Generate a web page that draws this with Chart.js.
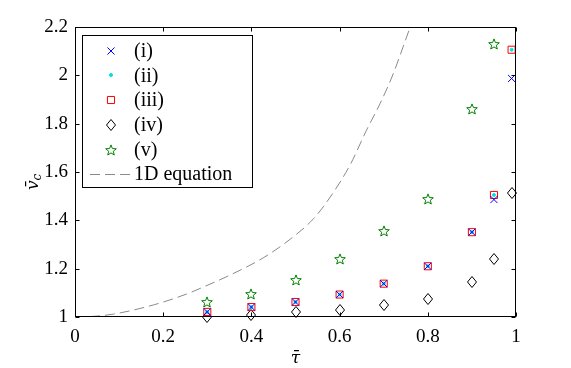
<!DOCTYPE html>
<html><head><meta charset="utf-8">
<script src="https://cdn.jsdelivr.net/npm/chart.js@4/dist/chart.umd.min.js"></script>
<style>html,body{margin:0;padding:0;background:#fff;}#wrap{width:571px;height:368px;}</style>
</head><body><div id="wrap"><canvas id="c" width="571" height="368"></canvas></div>
<script>
// ---- data ----
const tauValues = [0.3, 0.4, 0.5, 0.6, 0.7, 0.8, 0.9, 0.95, 0.99];
const seriesI   = [1.021, 1.041, 1.062, 1.093, 1.138, 1.210, 1.351, 1.486, 1.987];
const seriesII  = [1.021, 1.041, 1.062, 1.093, 1.138, 1.210, 1.351, 1.505, 2.106];
const seriesIII = [1.021, 1.041, 1.062, 1.093, 1.138, 1.210, 1.351, 1.505, 2.106];
const seriesIV  = [1.000, 1.007, 1.020, 1.031, 1.048, 1.076, 1.145, 1.239, 1.514];
const tauV      = [0.3, 0.4, 0.5, 0.6, 0.7, 0.8, 0.9, 0.95];
const seriesV   = [1.062, 1.097, 1.155, 1.240, 1.354, 1.489, 1.860, 2.128];
const curveTau  = [0, 0.03, 0.087, 0.178, 0.253, 0.291, 0.351, 0.427, 0.488, 0.541, 0.582, 0.624, 0.661, 0.692, 0.722, 0.744, 0.760, 0.775];
const curveV    = [1.0, 1.001, 1.012, 1.050, 1.095, 1.124, 1.173, 1.245, 1.322, 1.407, 1.505, 1.630, 1.773, 1.884, 2.008, 2.118, 2.200, 2.280];
const xTicks = [0, 0.2, 0.4, 0.6, 0.8, 1];
const yTicks = [1, 1.2, 1.4, 1.6, 1.8, 2, 2.2];
const seriesLabels = ['(i)', '(ii)', '(iii)', '(iv)', '(v)', '1D equation'];
const xTitle = 'τ\u0304';
const yTitleMain = 'v\u0304';
const yTitleSub = 'c';

const FONT = '"Liberation Serif", "Times New Roman", serif';

function marker(w, h, draw) {
  const c = document.createElement('canvas');
  c.width = w; c.height = h;
  const g = c.getContext('2d');
  draw(g, w, h);
  return c;
}
const mDiamond = marker(10, 12, g => {
  g.strokeStyle = '#000'; g.lineWidth = 1;
  g.beginPath(); g.moveTo(5, 0.5); g.lineTo(9.5, 6); g.lineTo(5, 11.5); g.lineTo(0.5, 6); g.closePath(); g.stroke();
});
const mStar = marker(12, 12, g => {
  g.strokeStyle = '#008000'; g.lineWidth = 1;
  g.beginPath();
  for (let i = 0; i < 10; i++) {
    const r = i % 2 === 0 ? 5.6 : 2.4;
    const a = -Math.PI / 2 + i * Math.PI / 5;
    const px = 6 + r * Math.cos(a), py = 6.5 + r * Math.sin(a);
    if (i === 0) g.moveTo(px, py); else g.lineTo(px, py);
  }
  g.closePath(); g.stroke();
});

function pts(xs, ys) { return xs.map((x, i) => ({ x: x, y: ys[i] })); }
function scatterSet(label, xs, ys, style, color, radius, fillCol) {
  return { type: 'scatter', label: label, data: pts(xs, ys), pointStyle: style, pointRadius: radius,
           borderColor: color, backgroundColor: fillCol || 'rgba(0,0,0,0)', pointBorderWidth: 1,
           showLine: false, clip: false };
}

const datasets = [
  scatterSet(seriesLabels[0], tauValues, seriesI, 'crossRot', '#0000ff', 5),
  scatterSet(seriesLabels[1], tauValues, seriesII, 'circle', '#00e0e0', 1.5, '#00e0e0'),
  scatterSet(seriesLabels[2], tauValues, seriesIII, 'rect', '#ff0000', 5),
  scatterSet(seriesLabels[3], tauValues, seriesIV, mDiamond, '#000000', 5),
  scatterSet(seriesLabels[4], tauV, seriesV, mStar, '#008000', 5),
  { type: 'line', label: seriesLabels[5], data: pts(curveTau, curveV), borderColor: '#8a8a8a',
    borderWidth: 1, borderDash: [10, 5], pointRadius: 0, fill: false, cubicInterpolationMode: 'monotone', clip: 0 }
];

const framePlugin = {
  id: 'frame',
  beforeDatasetsDraw(chart) { chart.ctx.imageSmoothingEnabled = false; },
  afterDatasetsDraw(chart) {
    const ctx = chart.ctx, a = chart.chartArea;
    ctx.imageSmoothingEnabled = true;
    const xs = chart.scales.x, ys = chart.scales.y;
    ctx.save();
    ctx.strokeStyle = '#000'; ctx.lineWidth = 1;
    const L = Math.round(a.left) + 0.5, R = Math.round(a.right) - 0.5;
    const T = Math.round(a.top) + 0.5, B = Math.round(a.bottom) - 0.5;
    ctx.strokeRect(L, T, R - L, B - T);
    ctx.beginPath();
    xTicks.forEach(v => {
      const p = Math.round(xs.getPixelForValue(v)) + 0.5;
      ctx.moveTo(p, B); ctx.lineTo(p, B - 4);
      ctx.moveTo(p, T); ctx.lineTo(p, T + 4);
    });
    yTicks.forEach(v => {
      const p = Math.round(ys.getPixelForValue(v)) + 0.5;
      ctx.moveTo(L, p); ctx.lineTo(L + 4, p);
      ctx.moveTo(R, p); ctx.lineTo(R - 4, p);
    });
    ctx.stroke();

    // legend (marker styles taken from the datasets' own point elements)
    const bx = 82.5, by = 35.5, bw = 170, bh = 152;
    ctx.fillStyle = '#fff'; ctx.fillRect(bx, by, bw, bh);
    ctx.strokeStyle = '#000';
    ctx.strokeRect(bx, by, bw, bh);
    ctx.textAlign = 'left'; ctx.textBaseline = 'middle';
    chart.data.datasets.forEach((ds, i) => {
      const y = 50.7 + i * 24.7;
      if (ds.type === 'scatter') {
        const el = chart.getDatasetMeta(i).data[0];
        const opts = el.options;
        ctx.save();
        ctx.strokeStyle = opts.borderColor;
        ctx.fillStyle = opts.backgroundColor;
        ctx.lineWidth = opts.borderWidth;
        Chart.helpers.drawPoint(ctx, opts, 111, Math.round(y));
        ctx.restore();
      } else {
        ctx.save(); ctx.strokeStyle = ds.borderColor; ctx.lineWidth = 1; ctx.setLineDash(ds.borderDash);
        ctx.beginPath(); ctx.moveTo(90, Math.round(y) + 0.5); ctx.lineTo(131, Math.round(y) + 0.5); ctx.stroke();
        ctx.restore();
      }
      ctx.font = '20px ' + FONT;
      ctx.fillStyle = '#000';
      ctx.fillText(ds.label, 134, y + 1);
    });

    // axis titles
    ctx.fillStyle = '#000';
    ctx.font = 'italic 17px "DejaVu Serif", serif';
    ctx.textAlign = 'center'; ctx.textBaseline = 'alphabetic';
    ctx.fillText(xTitle, (a.left + a.right) / 2, 363);
    ctx.save();
    ctx.translate(0, 190); ctx.rotate(-Math.PI / 2);
    ctx.textAlign = 'left';
    const w1 = ctx.measureText(yTitleMain).width;
    ctx.fillText(yTitleMain, 0, 38);
    ctx.font = 'italic 12px "DejaVu Serif", serif';
    ctx.fillText(yTitleSub, w1, 41);
    ctx.restore();
    ctx.restore();
  }
};

new Chart(document.getElementById('c'), {
  data: { datasets: datasets },
  options: {
    responsive: false, animation: false, devicePixelRatio: 1,
    events: [],
    layout: { padding: { left: 0, top: 27, right: 55, bottom: 0 } },
    plugins: { legend: { display: false }, tooltip: { enabled: false } },
    scales: {
      x: {
        type: 'linear', min: 0, max: 1,
        afterBuildTicks: s => { s.ticks = xTicks.map(v => ({ value: v })); },
        afterFit: s => { s.height = 51; },
        grid: { display: false, drawTicks: false }, border: { display: false },
        ticks: { color: '#000', font: { family: FONT, size: 19 }, padding: 9, maxRotation: 0,
                 callback: v => String(Math.round(v * 10) / 10) }
      },
      y: {
        type: 'linear', min: 1, max: 2.2,
        afterBuildTicks: s => { s.ticks = yTicks.map(v => ({ value: v })); },
        afterFit: s => { s.width = 75; },
        grid: { display: false, drawTicks: false }, border: { display: false },
        ticks: { color: '#000', font: { family: FONT, size: 19 }, padding: 7,
                 callback: v => String(Math.round(v * 10) / 10) }
      }
    }
  },
  plugins: [framePlugin]
});
</script>
</body></html>
